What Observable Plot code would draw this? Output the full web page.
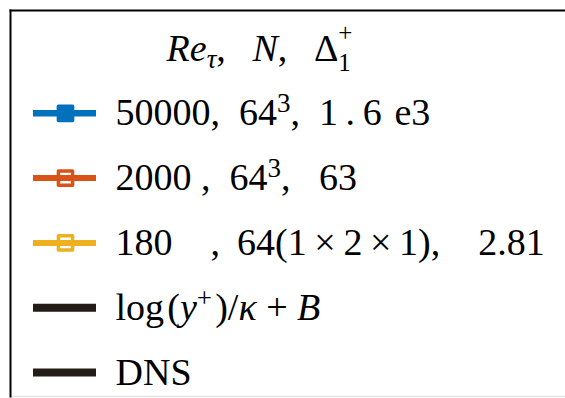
<!DOCTYPE html>
<html><head><meta charset="utf-8">
<script src="https://cdn.jsdelivr.net/npm/d3@7"></script>
<script src="https://cdn.jsdelivr.net/npm/@observablehq/plot@0.6"></script>
<style>html,body{margin:0;padding:0;background:#fff;overflow:hidden} svg{display:block}</style>
</head><body><div id="chart"></div>
<script>
// Legend content
const headerLabel = "<i>Re</i><sub>τ</sub>,\u00a0\u00a0\u2009<i>N</i>,\u00a0\u00a0\u2009Δ<subsup>1|+</subsup>";
const seriesLabels = [
  "50000,\u00a0\u00a064<sup>3</sup>,\u00a0\u00a01\u2009.\u20096\u2004e3",
  "2000\u00a0,\u00a0\u00a064<sup>3</sup>,\u00a0\u00a0\u00a063",
  "180\u00a0\u00a0\u00a0\u00a0,\u00a0\u200964(1\u2009×\u20092\u2009×\u20091),\u00a0\u00a0\u00a0\u00a02.81",
  "log\u200a(<i>y</i><sup>+</sup>\u200a)/<i>κ</i>\u00a0+\u00a0<i>B</i>",
  "DNS"
];
const seriesColors = ["#0072BD", "#D95319", "#EDB120", "#231c19", "#231c19"];
const seriesHasMarker = [true, true, true, false, false];
const seriesMarkerFilled = [true, false, false, false, false];
const seriesLineWidth = [6.5, 6, 6, 8, 8];

// layout constants
const W = 565, H = 398;
const FONT = "Liberation Serif, Times New Roman, serif";
const FS = 38;
const swatchX1 = 33, swatchX2 = 96, markerX = 65, labelX = 115, headerX = 259;

const rows = seriesLabels.map((label, i) => ({
  row: i + 1, label, color: seriesColors[i], marker: seriesHasMarker[i],
  filled: seriesMarkerFilled[i], lw: seriesLineWidth[i]
}));
const strip = s => s.replace(/<subsup>(.*?)\|(.*?)<\/subsup>/g, "$1$2").replace(/<[^>]+>/g, "");

const svg = Plot.plot({
  width: W, height: H,
  marginLeft: 10, marginTop: 10, marginRight: 0, marginBottom: 2,
  x: {domain: [0, W], range: [0, W], axis: null},
  y: {domain: [0, 5], range: [48, 372], axis: null},
  style: {background: "white"},
  marks: [
    Plot.frame({anchor: "bottom", stroke: "#e4e4e4", strokeWidth: 1.5}),
    Plot.frame({anchor: "left", stroke: "#000", strokeWidth: 2}),
    Plot.frame({anchor: "top", stroke: "#000", strokeWidth: 2}),
    Plot.dot(rows.filter(d => d.marker), {
      x: () => markerX, y: "row", symbol: "square", r: 8,
      fill: d => d.filled ? d.color : "white", stroke: "color",
      strokeWidth: 3.5, strokeLinejoin: "round"
    }),
    Plot.ruleY(rows, {y: "row", x1: () => swatchX1, x2: () => swatchX2, stroke: "color", strokeWidth: "lw"}),
    Plot.text([headerLabel], {x: () => headerX, y: () => 0, text: d => strip(d), textAnchor: "middle",
      fontSize: FS, fontFamily: FONT, fill: "#000"}),
    Plot.text(rows, {x: () => labelX, y: "row", text: d => strip(d.label), textAnchor: "start",
      fontSize: FS, fontFamily: FONT, fill: "#000"})
  ]
});

// rich text: italic, sub/superscripts as tspans
const NS = "http://www.w3.org/2000/svg";
const markup = [headerLabel, ...seriesLabels];
const texts = svg.querySelectorAll("g[aria-label='text'] text");
texts.forEach((t, i) => {
  const m = markup[i];
  if (!m) return;
  while (t.firstChild) t.removeChild(t.firstChild);
  const re = /<i>(.*?)<\/i>|<sup>(.*?)<\/sup>|<sub>(.*?)<\/sub>|<subsup>(.*?)\|(.*?)<\/subsup>|([^<]+)/g;
  let match;
  const small = Math.round(FS * 0.7);
  const tiny = Math.round(FS * 0.65);
  const add = (txt, attrs) => {
    const s = document.createElementNS(NS, "tspan");
    for (const k in attrs) s.setAttribute(k, attrs[k]);
    s.textContent = txt; t.appendChild(s); return s;
  };
  let shift = 0;
  while ((match = re.exec(m))) {
    if (match[1] !== undefined) { add(match[1], {"font-style": "italic", dy: -shift}); shift = 0; }
    else if (match[2] !== undefined) { add(match[2], {"font-size": small, dy: -13 - shift}); shift = -13; }
    else if (match[3] !== undefined) { add(match[3], {"font-size": small, "font-style": "italic", dy: 7 - shift}); shift = 7; }
    else if (match[4] !== undefined) {
      add(match[4], {"font-size": tiny, dy: 10 - shift});
      add(match[5], {"font-size": tiny, dx: -tiny * 0.5, dy: -30}); shift = -20;
    }
    else { add(match[6], {dy: -shift}); shift = 0; }
  }
});
document.getElementById("chart").appendChild(svg);
</script>
</body></html>
